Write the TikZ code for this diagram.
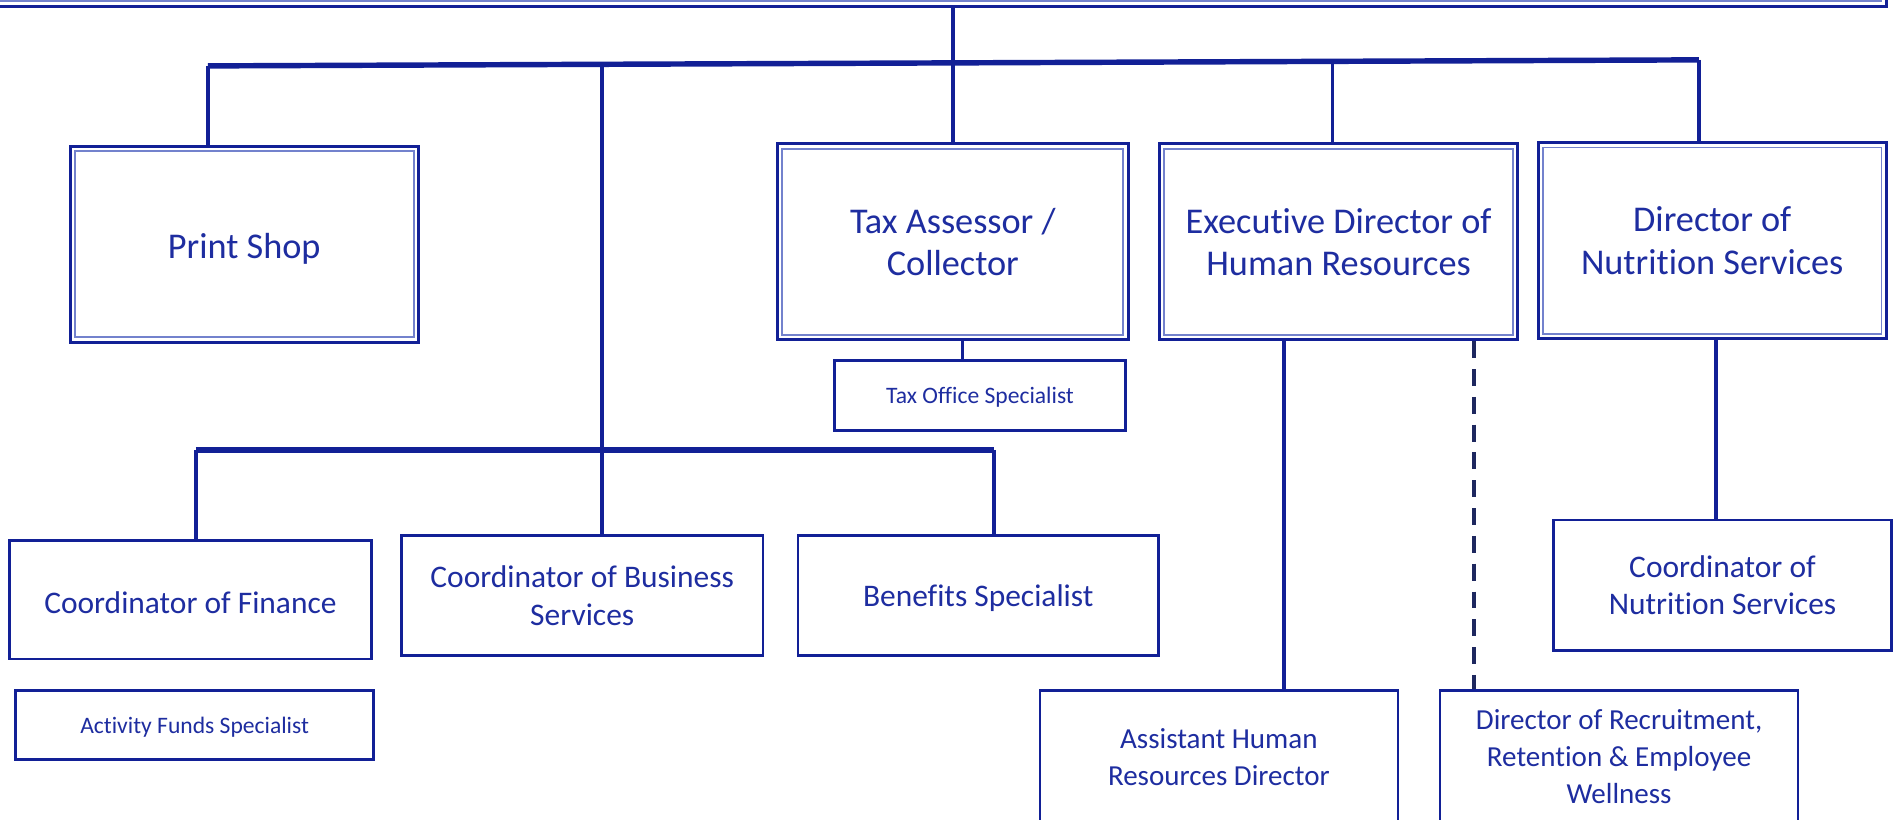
\documentclass[tikz,border=0pt]{standalone}
\usepackage{fontspec}
\setmainfont{Carlito}[Ligatures={NoCommon}]
\definecolor{linec}{RGB}{18,32,150}
\definecolor{textc}{RGB}{30,45,160}
\definecolor{innerc}{RGB}{115,130,205}
\definecolor{dashc}{RGB}{30,40,95}
\tikzset{
  every node/.style={text=textc, align=center, inner sep=0pt},
  dbox/.style={draw=linec, line width=2.4pt, fill=white,
    path picture={\draw[draw=innerc, line width=1.6pt]
      ([shift={(4pt,-4pt)}]path picture bounding box.north west) rectangle
      ([shift={(-4pt,4pt)}]path picture bounding box.south east);},
    font=\fontsize{30}{35}\selectfont,
    execute at begin node={\rule{0pt}{29pt}}},
  mbox/.style={draw=linec, line width=2.2pt, fill=white, font=\fontsize{26}{31}\selectfont,
    execute at begin node={\rule{0pt}{23pt}}},
  lbox/.style={draw=linec, line width=2.2pt, fill=white, font=\fontsize{24}{30.5}\selectfont},
  sbox/.style={draw=linec, line width=2.2pt, fill=white, font=\fontsize{19.5}{23}\selectfont,
    execute at begin node={\rule{0pt}{17pt}}},
  conn/.style={draw=linec, line width=2.8pt},
  busline/.style={draw=linec, line width=4.5pt},
  dashconn/.style={draw=dashc, line width=3pt, dash pattern=on 14pt off 9pt},
}
\begin{document}
\begin{tikzpicture}[x=1pt,y=-1pt]
\useasboundingbox (0,0) rectangle (1568,678);
% top (cut-off) box
\node[dbox, minimum width=1600pt, minimum height=104pt] (root) at (760,-47) {};
% level 1
\node[dbox, minimum width=288pt, minimum height=162pt] (print) at (202,202) {Print Shop};
\node[dbox, minimum width=290pt, minimum height=162pt] (tax) at (788,200) {Tax Assessor /\\Collector};
\node[dbox, minimum width=296pt, minimum height=162pt] (exec) at (1107,200) {Executive Director of\\Human Resources};
\node[dbox, minimum width=288pt, minimum height=162pt] (dns) at (1416,199) {Director of\\Nutrition Services};
% level 2
\node[sbox, minimum width=241pt, minimum height=58pt] (tos) at (810.5,327) {Tax Office Specialist};
\node[mbox, minimum width=299pt, minimum height=98pt] (cof) at (157.5,496) {Coordinator of Finance};
\node[mbox, minimum width=299pt, minimum height=99pt] (cbs) at (481.5,492.5) {Coordinator of Business\\Services};
\node[mbox, minimum width=298pt, minimum height=99pt] (ben) at (809,492.5) {Benefits Specialist};
\node[sbox, minimum width=296pt, minimum height=57pt] (afs) at (161,599.5) {Activity Funds Specialist};
\node[mbox, minimum width=279pt, minimum height=108pt] (cns) at (1424.5,484) {Coordinator of\\Nutrition Services};
\node[lbox, minimum width=296pt, minimum height=110pt] (ahr) at (1008,626) {Assistant Human\\Resources Director};
\node[lbox, minimum width=296pt, minimum height=110pt] (drr) at (1339,626) {Director of Recruitment,\\Retention \& Employee\\Wellness};
% coordinates
\coordinate (busL) at (172,54.5);
\coordinate (busR) at (1405,49.5);
\coordinate (spine) at (498,53);
\coordinate (lbL) at (162,372);
\coordinate (lbR) at (822,372);
\coordinate (xa) at (796,0);
\coordinate (xb) at (1102,51);
\coordinate (xc) at (1062,0);
\coordinate (xd) at (1219,0);
\coordinate (xe) at (1419,0);
% connectors
\draw[conn] (root.south -| tax.north) -- (tax.north);
\draw[busline] (busL) -- (busR);
\draw[conn] (busL) -- (busL |- print.north);
\draw[conn] (xb) -- (xb |- exec.north);
\draw[conn] (busR) -- (busR |- dns.north);
\draw[conn] (spine) -- (spine |- cbs.north);
\draw[busline] (lbL) -- (lbR);
\draw[conn] (lbL) -- (lbL |- cof.north);
\draw[conn] (lbR) -- (lbR |- ben.north);
\draw[conn] (xa |- tax.south) -- (xa |- tos.north);
\draw[conn] (xc |- exec.south) -- (xc |- ahr.north);
\draw[dashconn] (xd |- exec.south) -- (xd |- drr.north);
\draw[conn] (xe |- dns.south) -- (xe |- cns.north);
\end{tikzpicture}
\end{document}
